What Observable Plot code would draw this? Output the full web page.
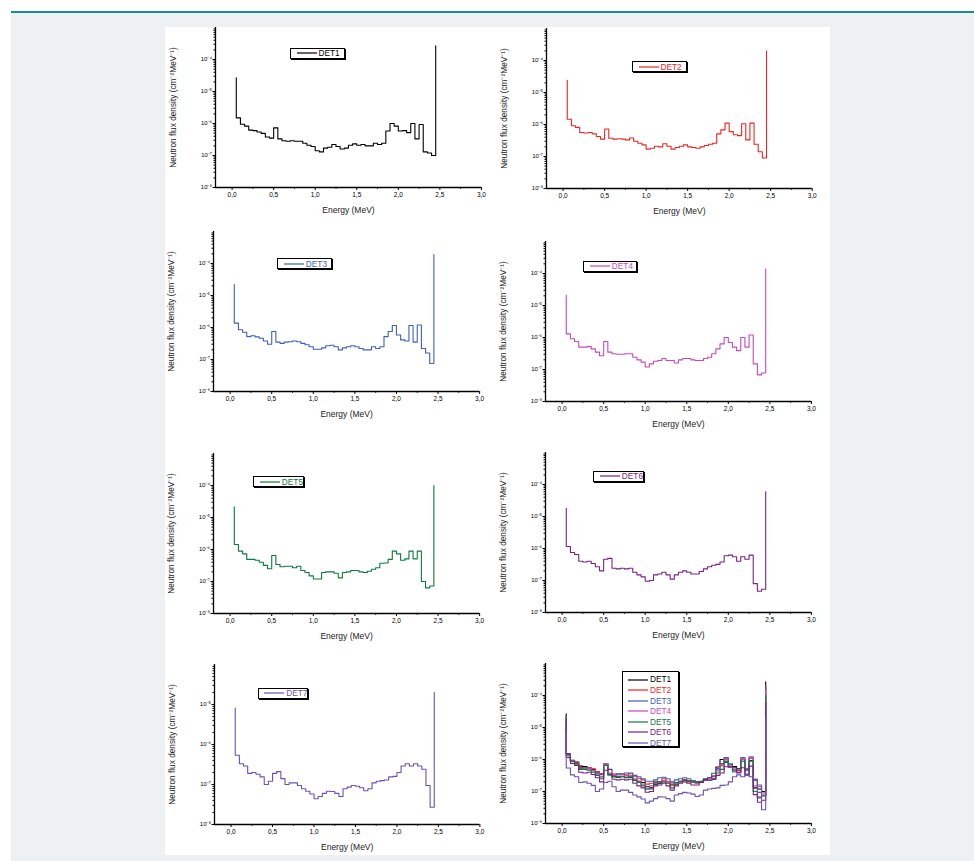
<!DOCTYPE html>
<html>
<head>
<meta charset="utf-8">
<script src="https://cdn.jsdelivr.net/npm/d3@7"></script>
<script src="https://cdn.jsdelivr.net/npm/@observablehq/plot@0.6"></script>
<style>
  html, body { margin: 0; padding: 0; background: #ffffff; }
  #page { position: relative; width: 974px; height: 861px; overflow: hidden; font-family: "Liberation Sans", Arial, sans-serif; }
  .bg { position: absolute; left: 11px; top: 13px; right: 0; bottom: 0; background: #edf1f4; }
  .teal { position: absolute; left: 11px; top: 11px; right: 0; height: 2px; background: #1b8a9b; }
  .sheet { position: absolute; left: 165px; top: 27px; width: 665px; height: 828px; background: #ffffff; }
  .panel { position: absolute; }
  .legend { position: absolute; box-sizing: border-box; border: 1px solid #000; box-shadow: 1px 1px 0 #000; background: #fff;
            font-family: "Liberation Sans", Arial, sans-serif; font-size: 8.3px; line-height: 1; }
  .legend .row { position: absolute; left: 0; right: 0; display: flex; align-items: center; white-space: nowrap; }
  .legend svg { display: block; flex: none; }
</style>
</head>
<body>
<div id="page">
  <div class="bg"></div>
  <div class="teal"></div>
  <div class="sheet"></div>
</div>
<script>
// ---------------- DATA ----------------
const detectors = ["DET1", "DET2", "DET3", "DET4", "DET5", "DET6", "DET7"];
const colors = ["#000000", "#ee2424", "#3f5fbf", "#c84ab8", "#0c7c3c", "#7a2282", "#6a50b8"];

// lower edge of each energy bin (MeV)
const energy = [0.05, 0.10, 0.15, 0.20, 0.25, 0.30, 0.35, 0.40, 0.45, 0.50,
                0.55, 0.60, 0.65, 0.70, 0.75, 0.80, 0.85, 0.90, 0.95, 1.00,
                1.05, 1.10, 1.15, 1.20, 1.25, 1.30, 1.35, 1.40, 1.45, 1.50,
                1.55, 1.60, 1.65, 1.70, 1.75, 1.80, 1.85, 1.90, 1.95, 2.00,
                2.05, 2.10, 2.15, 2.20, 2.25, 2.30, 2.35, 2.40];
const energyEnd = 2.45;

// flux densities in units of 1e-6 cm^-2 MeV^-1
const UNIT = 1e-6;
const det1 = [1.5, 0.95, 0.83, 0.62, 0.6, 0.54, 0.49, 0.38, 0.35, 0.73, 0.33, 0.29, 0.28, 0.29, 0.28, 0.28, 0.24, 0.21, 0.19, 0.14, 0.13, 0.17, 0.18, 0.22, 0.19, 0.16, 0.17, 0.21, 0.23, 0.21, 0.22, 0.2, 0.2, 0.24, 0.22, 0.24, 0.58, 1.0, 0.83, 0.58, 0.6, 0.52, 1.0, 0.33, 0.93, 0.13, 0.12, 0.1];
const det2 = [1.46, 0.91, 0.81, 0.56, 0.54, 0.56, 0.51, 0.42, 0.35, 0.72, 0.37, 0.35, 0.36, 0.35, 0.33, 0.38, 0.3, 0.26, 0.23, 0.17, 0.18, 0.21, 0.2, 0.25, 0.21, 0.17, 0.19, 0.21, 0.23, 0.2, 0.19, 0.18, 0.2, 0.22, 0.24, 0.26, 0.51, 0.68, 1.1, 0.6, 0.48, 0.45, 1.05, 0.33, 1.1, 0.24, 0.14, 0.09];
const det3 = [1.37, 0.85, 0.71, 0.52, 0.55, 0.51, 0.46, 0.38, 0.3, 0.75, 0.35, 0.32, 0.35, 0.36, 0.38, 0.36, 0.32, 0.29, 0.25, 0.21, 0.21, 0.23, 0.27, 0.28, 0.25, 0.2, 0.23, 0.25, 0.27, 0.25, 0.22, 0.2, 0.2, 0.25, 0.22, 0.25, 0.52, 0.75, 1.15, 0.58, 0.41, 0.38, 1.15, 0.35, 1.2, 0.22, 0.16, 0.075];
const det4 = [1.3, 0.91, 0.75, 0.5, 0.5, 0.52, 0.44, 0.35, 0.27, 0.75, 0.35, 0.31, 0.3, 0.3, 0.31, 0.31, 0.24, 0.2, 0.17, 0.12, 0.15, 0.18, 0.19, 0.22, 0.19, 0.19, 0.16, 0.2, 0.22, 0.22, 0.2, 0.19, 0.19, 0.22, 0.24, 0.31, 0.44, 0.63, 1.0, 0.7, 0.5, 0.39, 1.0, 0.5, 1.2, 0.15, 0.068, 0.078];
const det5 = [1.43, 0.89, 0.73, 0.49, 0.49, 0.46, 0.4, 0.32, 0.25, 0.65, 0.34, 0.29, 0.3, 0.3, 0.27, 0.3, 0.22, 0.19, 0.15, 0.12, 0.12, 0.19, 0.2, 0.2, 0.18, 0.13, 0.19, 0.2, 0.22, 0.22, 0.2, 0.19, 0.21, 0.24, 0.27, 0.37, 0.38, 0.49, 0.89, 0.73, 0.46, 0.51, 0.89, 0.51, 0.89, 0.1, 0.063, 0.072];
const det6 = [1.15, 0.75, 0.65, 0.4, 0.38, 0.4, 0.34, 0.27, 0.2, 0.46, 0.49, 0.24, 0.23, 0.24, 0.23, 0.24, 0.18, 0.15, 0.13, 0.095, 0.1, 0.15, 0.16, 0.18, 0.15, 0.11, 0.15, 0.18, 0.2, 0.18, 0.16, 0.16, 0.19, 0.23, 0.27, 0.3, 0.32, 0.38, 0.59, 0.62, 0.55, 0.4, 0.55, 0.46, 0.62, 0.08, 0.046, 0.053];
const det7 = [0.54, 0.33, 0.29, 0.19, 0.2, 0.18, 0.155, 0.1, 0.12, 0.19, 0.21, 0.14, 0.1, 0.11, 0.11, 0.094, 0.078, 0.068, 0.058, 0.044, 0.05, 0.06, 0.068, 0.067, 0.06, 0.05, 0.078, 0.086, 0.094, 0.09, 0.083, 0.07, 0.078, 0.11, 0.12, 0.125, 0.13, 0.155, 0.16, 0.2, 0.29, 0.33, 0.29, 0.33, 0.29, 0.24, 0.094, 0.027];
// narrow peaks at the low end (0.05 MeV) and at 2.45 MeV, same unit
const lowSpike  = [27, 24, 22, 21, 21.5, 18, 8.2];
const highSpike = [270, 200, 190, 140, 100, 59, 20];

const xTicks = [0, 0.5, 1, 1.5, 2, 2.5, 3];
const xTickLabels = ["0,0", "0,5", "1,0", "1,5", "2,0", "2,5", "3,0"];
const xMinorTicks = [0.25, 0.75, 1.25, 1.75, 2.25, 2.75];
const yTicks = [1e-8, 1e-7, 1e-6, 1e-5, 1e-4];
const yTickLabels = ["10\u207B\u2078", "10\u207B\u2077", "10\u207B\u2076", "10\u207B\u2075", "10\u207B\u2074"];
const xLabel = "Energy (MeV)";
const yLabel = "Neutron flux density (cm\u207B\u00B2MeV\u207B\u00B9)";

// ---------------- LAYOUT ----------------
const layout = [
  { series: [0], x0: 231.7, x3: 481.0, bottom: 186.7, yTop: 1e-3, yMax: 1e-4, legend: [290, 47.7, 55, 11.6] },
  { series: [1], x0: 562.4, x3: 811.5, bottom: 187.5, yTop: 1e-3, yMax: 1e-4, legend: [632, 61, 54.7, 11.3] },
  { series: [2], x0: 230.0, x3: 479.5, bottom: 391.0, yTop: 1e-3, yMax: 1e-4, legend: [277.3, 258.3, 54.4, 10.9] },
  { series: [3], x0: 561.7, x3: 811.0, bottom: 401.0, yTop: 1e-3, yMax: 1e-4, legend: [583.3, 261, 53.4, 10.9] },
  { series: [4], x0: 230.0, x3: 479.5, bottom: 612.7, yTop: 1e-3, yMax: 1e-4, legend: [253.3, 476, 50.7, 11.3] },
  { series: [5], x0: 561.7, x3: 811.0, bottom: 611.7, yTop: 1e-3, yMax: 1e-4, legend: [593.3, 471, 50.7, 10.9] },
  { series: [6], x0: 230.7, x3: 479.5, bottom: 824.0, yTop: 1e-4, yMax: 1e-5, legend: [257.7, 687.7, 50.6, 11.3] },
  { series: [0, 1, 2, 3, 4, 5, 6], x0: 561.7, x3: 811.0, bottom: 823.3, yTop: 1e-3, yMax: 1e-4, legend: [621.7, 671.3, 57.3, 76] }
];

const seriesValues = [det1, det2, det3, det4, det5, det6, det7];

function stepPoints(i) {
  const v = seriesValues[i];
  const pts = [{ x: energy[0], y: lowSpike[i] * UNIT }];
  energy.forEach((e, j) => pts.push({ x: e, y: v[j] * UNIT }));
  pts.push({ x: energyEnd, y: v[v.length - 1] * UNIT });
  pts.push({ x: energyEnd, y: highSpike[i] * UNIT });
  return pts;
}

const page = document.getElementById("page");
const FRAME_H = 160;
const mL = 62, mR = 14, mT = 6, mB = 36;

layout.forEach((L) => {
  const k = (L.x3 - L.x0) / 3;
  const fl = L.x0 - 0.2 * k;
  const fr = L.x3;
  const fb = L.bottom;
  const ft = fb - FRAME_H;

  const yMinor = [];
  for (let d = 1e-8; d < L.yTop * 0.99; d *= 10) {
    for (let m = 2; m <= 9; m++) yMinor.push(d * m);
  }
  const majors = yTicks.filter((t) => t <= L.yMax * 1.001);

  const lineMarks = L.series.map((i) =>
    Plot.line(stepPoints(i), { x: "x", y: "y", curve: "step-after", stroke: colors[i], strokeWidth: 1.1 })
  );

  const svg = Plot.plot({
    width: fr - fl + mL + mR,
    height: FRAME_H + mT + mB,
    marginLeft: mL, marginRight: mR, marginTop: mT, marginBottom: mB,
    style: { background: "transparent", overflow: "visible", fontFamily: "'Liberation Sans', Arial, sans-serif", color: "#000" },
    x: { domain: [-0.2, 3] },
    y: { type: "log", domain: [1e-8, L.yTop] },
    marks: [
      Plot.axisX({ ticks: xTicks, tickFormat: (d) => xTickLabels[xTicks.indexOf(d)], tickSize: 3, tickPadding: 2, fontSize: 6.5, label: null, stroke: "#000", strokeWidth: 1 }),
      Plot.axisX({ ticks: xMinorTicks, tickFormat: () => "", tickSize: 1.8, label: null, stroke: "#000" }),
      Plot.axisY({ ticks: majors, tickFormat: (d) => yTickLabels[yTicks.indexOf(d)], tickSize: 2.5, tickPadding: 1, fontSize: 6, label: null, stroke: "#000" }),
      Plot.axisY({ ticks: yMinor, tickFormat: () => "", tickSize: 1.5, label: null, stroke: "#000" }),
      Plot.ruleX([-0.2], { stroke: "#000", strokeWidth: 1.3 }),
      Plot.ruleY([1e-8], { stroke: "#000", strokeWidth: 1.3 }),
      ...lineMarks,
      Plot.text([xLabel], { text: (d) => d, frameAnchor: "bottom", textAnchor: "middle", dy: 22.6, fontSize: 8.5, lineAnchor: "middle", fill: "#222" }),
      Plot.text([yLabel], { text: (d) => d, frameAnchor: "left", textAnchor: "middle", dx: -42.4, rotate: -90, fontSize: 8.3, lineAnchor: "middle", fill: "#222" })
    ]
  });
  const wrap = document.createElement("div");
  wrap.className = "panel";
  wrap.style.left = (fl - mL) + "px";
  wrap.style.top = (ft - mT) + "px";
  wrap.appendChild(svg);
  page.appendChild(wrap);

  // legend box
  const [lx, ly, lw, lh] = L.legend;
  const box = document.createElement("div");
  box.className = "legend";
  box.style.left = lx + "px";
  box.style.top = ly + "px";
  box.style.width = lw + "px";
  box.style.height = lh + "px";
  const n = L.series.length;
  const rowH = n === 1 ? lh - 2 : 10.55;
  const padTop = n === 1 ? 0 : 2;
  L.series.forEach((i, r) => {
    const row = document.createElement("div");
    row.className = "row";
    row.style.top = (padTop + r * rowH) + "px";
    row.style.height = rowH + "px";
    row.innerHTML =
      `<svg width="20" height="4" style="margin-left:${n === 1 ? 5.5 : 5.3}px"><line x1="0" x2="20" y1="2" y2="2" stroke="${colors[i]}" stroke-width="1.2"/></svg>` +
      `<span style="color:${colors[i]};margin-left:2px">${detectors[i]}</span>`;
    box.appendChild(row);
  });
  page.appendChild(box);
});
</script>
</body>
</html>
